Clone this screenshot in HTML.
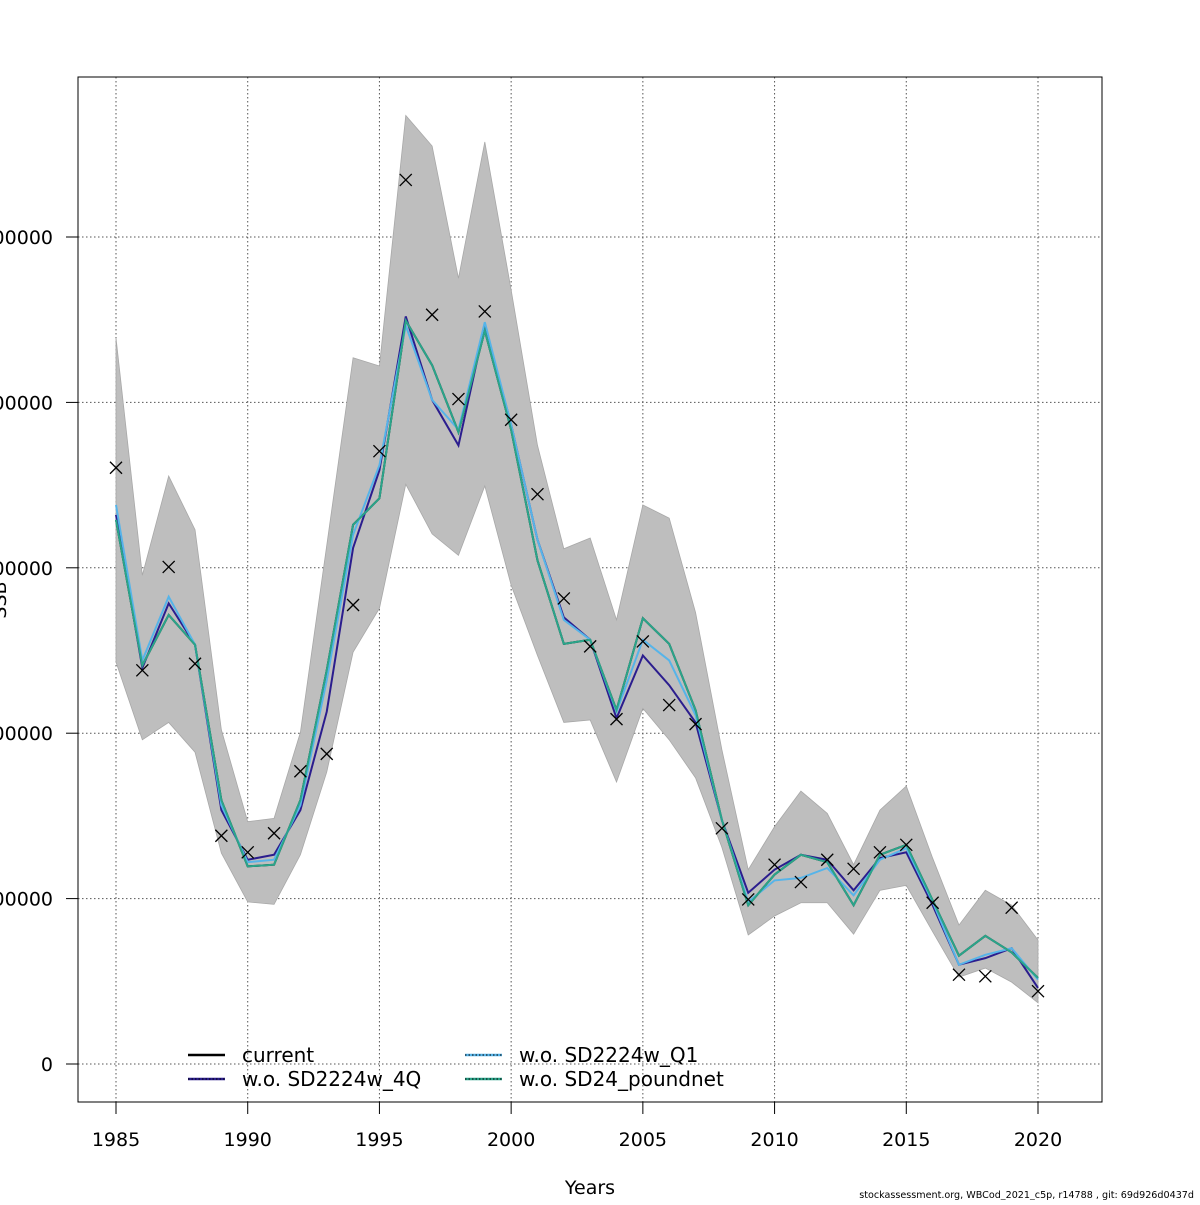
<!DOCTYPE html>
<html><head><meta charset="utf-8"><style>
body{margin:0;background:#fff;}
svg text{font-family:"DejaVu Sans","Liberation Sans",sans-serif;}
</style></head><body>
<svg id="chart" width="1200" height="1200" xmlns="http://www.w3.org/2000/svg">
<rect width="1200" height="1200" fill="#fff"/>
<g id="grid"></g><g id="band"></g><g id="lines"></g><g id="obs"></g><g id="axes"></g><g id="legend"></g>
<text x="590" y="1194" font-size="19" text-anchor="middle">Years</text>
<text x="1194" y="1198" font-size="9.6" text-anchor="end">stockassessment.org, WBCod_2021_c5p, r14788 , git: 69d926d0437d</text>
<text transform="translate(6,600) rotate(-90)" font-size="19" text-anchor="middle">SSB</text>
</svg>
<script>
const years=[1985,1986,1987,1988,1989,1990,1991,1992,1993,1994,1995,1996,1997,1998,1999,2000,2001,2002,2003,2004,2005,2006,2007,2008,2009,2010,2011,2012,2013,2014,2015,2016,2017,2018,2019,2020];
const observed=[721,476,601,484,276,256,279,354,375,555,741,1069,906,804,910,779,689,563,505,417,511,434,411,285,199,241,220,247,236,256,265,195,108,106,189,88];
const current=[658,482,543,507,319,239,241,319,476,652,684,899,845,764,887,767,609,508,513,428,539,508,428,295,192,229,253,244,192,253,265,198,131,155,135,104];
const wo4Q=[664,479,557,507,307,247,253,307,426,624,718,904,803,748,893,773,634,540,513,418,494,458,413,295,207,235,253,247,210,249,256,192,120,128,140,92];
const woQ1=[676,488,565,507,313,244,247,313,464,640,724,893,803,767,897,773,634,537,513,426,513,488,422,295,196,222,225,237,204,247,261,196,120,132,140,102];
const woPound=[658,482,543,507,319,239,241,319,476,652,684,899,845,764,887,767,609,508,513,428,539,508,428,295,192,229,253,244,192,253,265,198,131,155,135,104];
const upper=[878,591,711,646,404,293,297,401,627,854,844,1147,1110,950,1115,936,748,623,636,537,676,660,546,380,235,287,330,303,241,307,336,249,168,210,192,150];
const lower=[486,392,413,377,255,196,193,253,353,498,551,701,641,615,699,579,494,413,416,341,430,392,346,262,156,179,195,195,157,210,216,160,105,116,99,74];
const yTicks=[0,200,400,600,800,1000];
const xTicks=[1985,1990,1995,2000,2005,2010,2015,2020];
const L=78,R=1102,T=77,B=1102;
const X=v=>116+(v-1985)*(922/35);
const Y=v=>1064-v*(165.4/200);
const NS="http://www.w3.org/2000/svg";
function mk(tag,attrs,parent){const e=document.createElementNS(NS,tag);for(const k in attrs)e.setAttribute(k,attrs[k]);document.getElementById(parent).appendChild(e);return e;}
xTicks.forEach(t=>{const e=mk('line',{x1:X(t),x2:X(t),y1:T,y2:B,stroke:'#555','stroke-dasharray':'1.5,2.5','stroke-width':1},'grid');

});
yTicks.forEach(t=>{const e=mk('line',{x1:L,x2:R,y1:Y(t),y2:Y(t),stroke:'#555','stroke-dasharray':'1.5,2.5','stroke-width':1},'grid');

});
let pts=years.map((y,i)=>X(y)+','+Y(upper[i])).concat(years.slice().reverse().map((y,j)=>{const i=years.length-1-j;return X(y)+','+Y(lower[i]);}));
const band=mk('polygon',{points:pts.join(' '),fill:'#bebebe',stroke:'#a8a8a8','stroke-width':0.8},'band');


const series=[['current-line',current,'#000'],['wo-sd2224w-4q-line',wo4Q,'#2b1d8e'],['wo-sd2224w-q1-line',woQ1,'#56b4e9'],['wo-sd24-poundnet-line',woPound,'#2aa58a']];
series.forEach(s=>{const p=mk('polyline',{points:years.map((y,i)=>X(y)+','+Y(s[1][i])).join(' '),fill:'none',stroke:s[2],'stroke-width':2},'lines');

});
years.forEach((y,i)=>{const cx=X(y),cy=Y(observed[i]),d=6;
const p=mk('path',{d:`M${cx-d},${cy-d}L${cx+d},${cy+d}M${cx-d},${cy+d}L${cx+d},${cy-d}`,stroke:'#000','stroke-width':1.3,fill:'none'},'obs');

});
const box=mk('rect',{x:L,y:T,width:R-L,height:B-T,fill:'none',stroke:'#000','stroke-width':1},'axes');


xTicks.forEach(t=>{mk('line',{x1:X(t),x2:X(t),y1:B,y2:B+12,stroke:'#000'},'axes');
const tx=mk('text',{x:X(t),y:1146,'font-size':19,'text-anchor':'middle'},'axes');tx.textContent=t;

});
yTicks.forEach(t=>{mk('line',{x1:L-12,x2:L,y1:Y(t),y2:Y(t),stroke:'#000'},'axes');
const tx=mk('text',{x:53,y:Y(t)+7,'font-size':19,'text-anchor':'end'},'axes');tx.textContent=t===0?'0':String(t*1000);

});
const leg=[['current','#000',188,1055,false],['w.o. SD2224w_4Q','#2b1d8e',188,1079,true],['w.o. SD2224w_Q1','#56b4e9',465,1055,true],['w.o. SD24_poundnet','#2aa58a',465,1079,true]];
leg.forEach(l=>{const g=mk('g',{},'legend');


const a=document.createElementNS(NS,'line');a.setAttribute('x1',l[2]);a.setAttribute('x2',l[2]+37);a.setAttribute('y1',l[3]);a.setAttribute('y2',l[3]);a.setAttribute('stroke',l[1]);a.setAttribute('stroke-width',2.5);g.appendChild(a);
if(l[4]){const b=document.createElementNS(NS,'line');b.setAttribute('x1',l[2]);b.setAttribute('x2',l[2]+37);b.setAttribute('y1',l[3]);b.setAttribute('y2',l[3]);b.setAttribute('stroke','#000');b.setAttribute('stroke-width',1);b.setAttribute('stroke-dasharray','1.5,2');g.appendChild(b);}
const t=document.createElementNS(NS,'text');t.setAttribute('x',l[2]+54);t.setAttribute('y',l[3]+7);t.setAttribute('font-size',20);t.textContent=l[0];g.appendChild(t);});
</script>
</body></html>
